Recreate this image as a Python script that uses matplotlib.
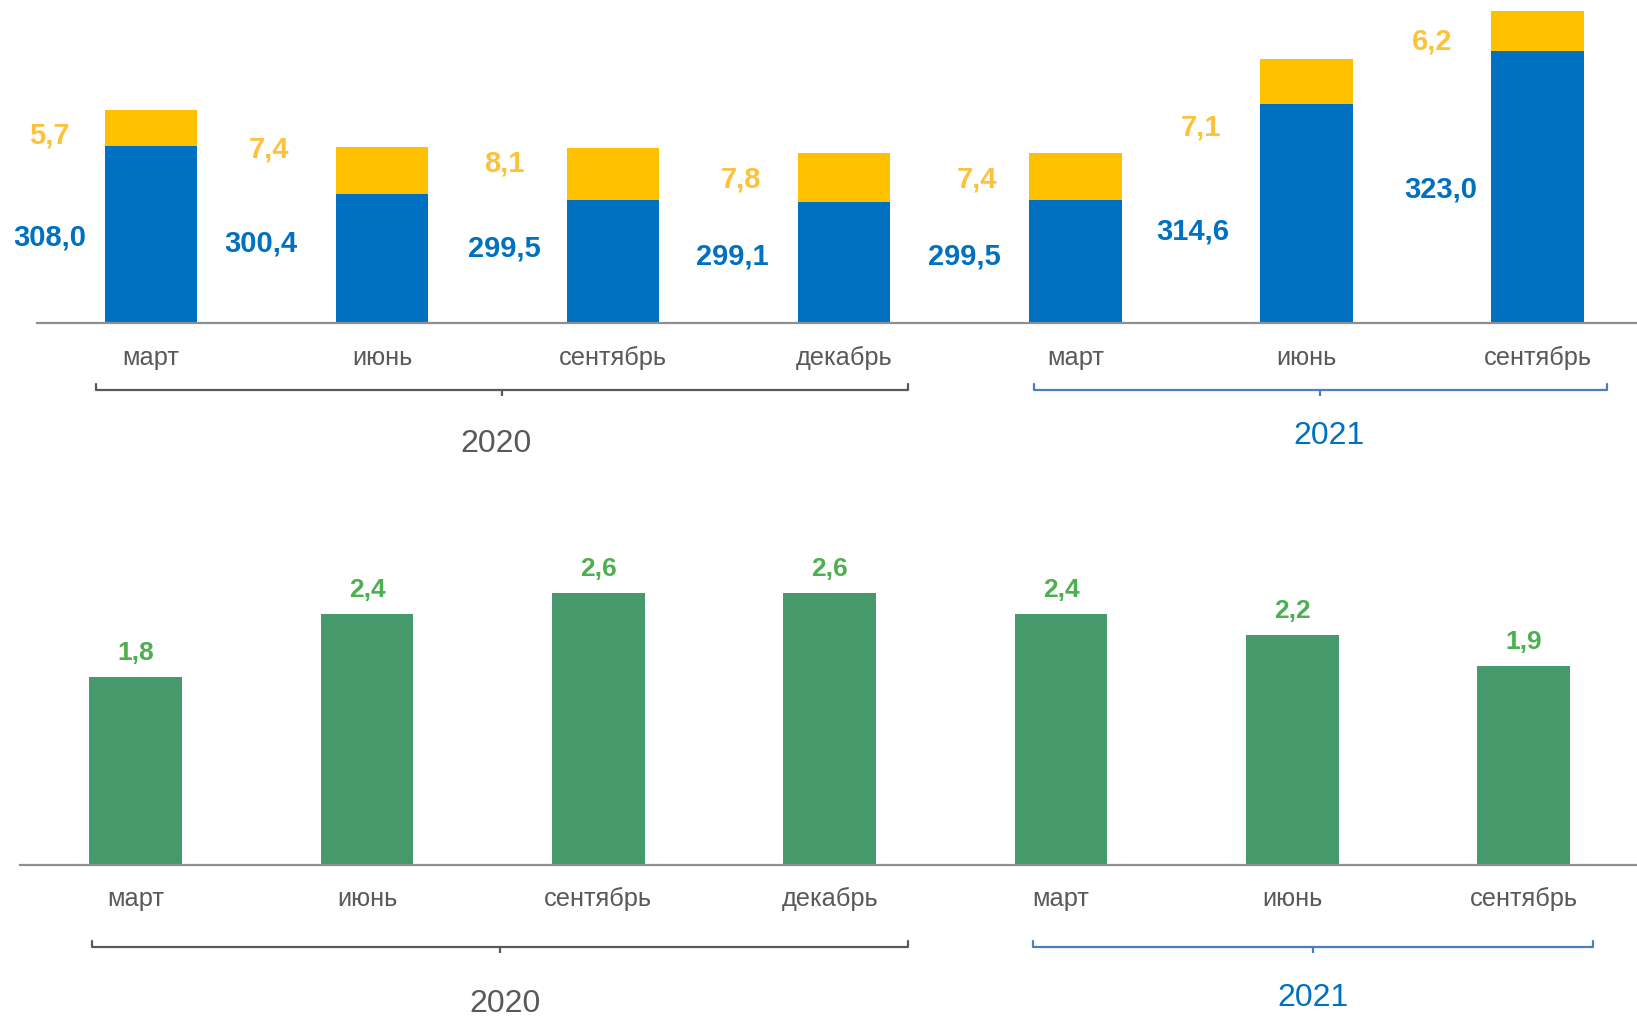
import matplotlib
matplotlib.use('Agg')
import matplotlib.pyplot as plt
from matplotlib import transforms
import numpy as np

plt.rcParams['font.family'] = ['Liberation Sans', 'DejaVu Sans']

# ---------------- data ----------------
months = ['март', 'июнь', 'сентябрь', 'декабрь', 'март', 'июнь', 'сентябрь']
years = ['2020', '2021']
year_members = [[0, 1, 2, 3], [4, 5, 6]]
blue_vals = [308.0, 300.4, 299.5, 299.1, 299.5, 314.6, 323.0]
yellow_vals = [5.7, 7.4, 8.1, 7.8, 7.4, 7.1, 6.2]
green_vals = [1.8, 2.4, 2.6, 2.6, 2.4, 2.2, 1.9]

# ---------------- styles ----------------
W, H = 1637, 1016
C_BLUE = '#0070C0'
C_YEL = '#FFC000'
C_YEL_TXT = '#FDC23A'
C_GREEN = '#46996A'
C_GREEN_TXT = '#4CB050'
C_GRAY = '#595959'
C_AXIS = '#8F8F8F'
C_BR21 = '#4A7EC0'
year_text_colors = [C_GRAY, C_BLUE]
bracket_colors = [C_GRAY, C_BR21]

# label placement (offsets relative to bar center, in data units)
blue_lab_dx = [-0.437, -0.523, -0.471, -0.484, -0.480, -0.493, -0.420]
blue_lab_y = [293.9, 292.95, 292.2, 290.9, 290.9, 295.0, 301.5]
yel_lab_dx = [-0.441, -0.489, -0.471, -0.445, -0.424, -0.458, -0.458]
yel_lab_y = [310.0, 307.8, 305.6, 303.1, 303.1, 311.4, 324.9]

def fmt(v):
    return f'{v:.1f}'.replace('.', ',')

def fy(px):
    return 1 - px / H

fig = plt.figure(figsize=(W / 100, H / 100), dpi=100)
x = np.arange(len(months))
bw = 0.4

# ---------------- top chart ----------------
ax1 = fig.add_axes([36.5 / W, fy(323), 1 - 36.5 / W, 323 / H])
ax1.set_xlim(-0.495, 6.43)
ax1.set_ylim(280, 331.0)
ax1.bar(x, blue_vals, width=bw, color=C_BLUE, zorder=2)
ax1.bar(x, yellow_vals, width=bw, bottom=blue_vals, color=C_YEL, zorder=2)
for i in range(len(x)):
    ax1.text(x[i] + blue_lab_dx[i], blue_lab_y[i], fmt(blue_vals[i]),
             ha='center', va='center_baseline', fontsize=21, fontweight='bold', color=C_BLUE)
    ax1.text(x[i] + yel_lab_dx[i], yel_lab_y[i], fmt(yellow_vals[i]),
             ha='center', va='center_baseline', fontsize=21, fontweight='bold', color=C_YEL_TXT)

# ---------------- bottom chart ----------------
ax2 = fig.add_axes([20 / W, fy(864.5), 1 - 20 / W, 324.5 / H])
ax2.set_xlim(-0.50, 6.49)
ax2.set_ylim(0, 3.108)
ax2.bar(x, green_vals, width=bw, color=C_GREEN, zorder=2)
for i in range(len(x)):
    ax2.annotate(fmt(green_vals[i]), (x[i], green_vals[i]), xytext=(0, 19),
                 textcoords='offset points', ha='center', va='center_baseline',
                 fontsize=19, fontweight='bold', color=C_GREEN_TXT)

for ax in (ax1, ax2):
    for s in ('top', 'right', 'left'):
        ax.spines[s].set_visible(False)
    ax.spines['bottom'].set_color(C_AXIS)
    ax.spines['bottom'].set_linewidth(1.6)
    ax.set_yticks([])
    ax.set_xticks([])
    ax.patch.set_alpha(0)

# month labels, brackets, year labels
layouts = [
    # ax, month baseline px, bracket y px, bracket extents, year text y px, year text dx
    (ax1, 365, 390, [(-0.238, 0.274), (-0.18, 0.30)], [440, 432], [-0.023, 0.036]),
    (ax2, 906, 947, [(-0.19, 0.34), (-0.12, 0.30)], [1000, 995], [0.023, 0.0]),
]
for ax, mbase, by, exts, ytxt, ydx in layouts:
    tr = transforms.blended_transform_factory(ax.transData, fig.transFigure)
    for i, m in enumerate(months):
        fig.text(x[i], fy(mbase), m, transform=tr, ha='center', va='baseline',
                 fontsize=18.3, color=C_GRAY)
    for k, yr in enumerate(years):
        mem = year_members[k]
        x0 = x[mem[0]] + exts[k][0]
        x1 = x[mem[-1]] + exts[k][1]
        xm = (x0 + x1) / 2
        col = bracket_colors[k]
        fig.add_artist(plt.Line2D([x0, x0, x1, x1], [fy(by - 6), fy(by), fy(by), fy(by - 6)],
                                  transform=tr, color=col, lw=1.6,
                                  solid_joinstyle='round', solid_capstyle='round'))
        fig.add_artist(plt.Line2D([xm, xm], [fy(by), fy(by + 6)], transform=tr, color=col,
                                  lw=1.6, solid_capstyle='butt'))
        fig.text(xm + ydx[k], fy(ytxt[k]), yr, transform=tr, ha='center', va='center_baseline',
                 fontsize=23, color=year_text_colors[k])

fig.savefig('out.png', dpi=100)
